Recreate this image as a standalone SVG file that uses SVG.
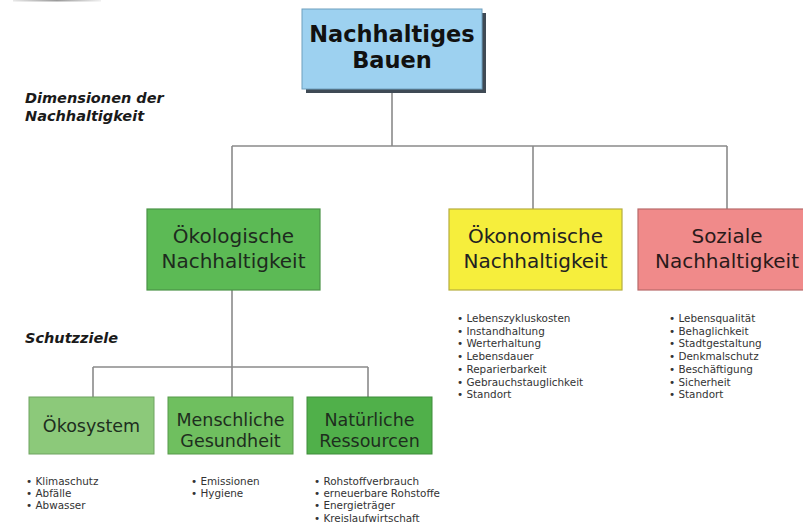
<svg xmlns="http://www.w3.org/2000/svg" width="803" height="526" viewBox="0 0 803 526">
<defs>
<linearGradient id="topline" x1="0" x2="1" y1="0" y2="0">
<stop offset="0" stop-color="#e8e8e8"/><stop offset="0.5" stop-color="#9a9a9a"/><stop offset="1" stop-color="#f0f0f0"/>
</linearGradient>
</defs>
<style>
.conn{stroke:#8a8a8a;stroke-width:1.6;fill:none}
.hdr{font-family:"DejaVu Sans",Verdana,sans-serif;font-weight:bold;font-style:italic;font-size:14.5px;fill:#1a1a1a}
.top{font-family:"DejaVu Sans",Verdana,sans-serif;font-weight:bold;font-size:22.5px;fill:#111;text-anchor:middle}
.dim{font-family:"DejaVu Sans",Verdana,sans-serif;font-size:20px;fill:#1e2a1e;text-anchor:middle}
.goal{font-family:"DejaVu Sans",Verdana,sans-serif;font-size:17.5px;fill:#1e2e1e;text-anchor:middle}
.lst{font-family:"DejaVu Sans",Verdana,sans-serif;font-size:10.4px;fill:#333}
</style>
<rect x="0" y="0" width="803" height="526" fill="#ffffff"/>
<rect x="13" y="0" width="88" height="1.5" fill="url(#topline)"/>

<g id="connectors">
<path class="conn" d="M392 89 V146 M232 146 H727 M232 146 V209 M533 146 V209 M727 146 V209"/>
<path class="conn" d="M232 290 V367 M93 367 H368 M93 367 V397 M232 367 V397 M368 367 V397"/>
</g>

<text class="hdr" x="25" y="102.5">Dimensionen der</text>
<text class="hdr" x="25" y="120.5">Nachhaltigkeit</text>
<text class="hdr" x="25" y="343">Schutzziele</text>

<g id="nachhaltiges-bauen">
<rect x="306" y="13" width="180" height="80" fill="#3f4a55"/>
<rect x="302" y="9" width="180" height="80" fill="#9dd1f0" stroke="#6f9fbe" stroke-width="1"/>
<text class="top" x="392" y="42">Nachhaltiges</text>
<text class="top" x="392" y="68">Bauen</text>
</g>

<g id="oekologische">
<rect x="147" y="209" width="173" height="81" fill="#5cba55" stroke="#4a9346" stroke-width="1.2"/>
<text class="dim" x="233.5" y="243">Ökologische</text>
<text class="dim" x="233.5" y="268">Nachhaltigkeit</text>
</g>

<g id="oekonomische">
<rect x="449" y="209" width="173" height="81" fill="#f6ee3c" stroke="#b6ad3e" stroke-width="1.2"/>
<text class="dim" x="535.5" y="243" style="fill:#222">Ökonomische</text>
<text class="dim" x="535.5" y="268" style="fill:#222">Nachhaltigkeit</text>
</g>

<g id="soziale">
<rect x="638" y="209" width="178" height="81" fill="#f08a8a" stroke="#b86a6a" stroke-width="1.2"/>
<text class="dim" x="727" y="243" style="fill:#2a1a1a">Soziale</text>
<text class="dim" x="727" y="268" style="fill:#2a1a1a">Nachhaltigkeit</text>
</g>

<g id="oekosystem">
<rect x="29" y="397" width="125" height="57" fill="#8cc97a" stroke="#6ea360" stroke-width="1"/>
<text class="goal" x="91.5" y="432">Ökosystem</text>
</g>

<g id="menschliche-gesundheit">
<rect x="168" y="397" width="125" height="57" fill="#6fbf5f" stroke="#57994b" stroke-width="1"/>
<text class="goal" x="230.5" y="426">Menschliche</text>
<text class="goal" x="230.5" y="447">Gesundheit</text>
</g>

<g id="natuerliche-ressourcen">
<rect x="307" y="397" width="125" height="57" fill="#50b04a" stroke="#3f8c3a" stroke-width="1"/>
<text class="goal" x="369.5" y="426">Natürliche</text>
<text class="goal" x="369.5" y="447">Ressourcen</text>
</g>

<g id="list-oekonomisch" class="lst">
<text x="457" y="322">• Lebenszykluskosten</text>
<text x="457" y="334.7">• Instandhaltung</text>
<text x="457" y="347.4">• Werterhaltung</text>
<text x="457" y="360.1">• Lebensdauer</text>
<text x="457" y="372.8">• Reparierbarkeit</text>
<text x="457" y="385.5">• Gebrauchstauglichkeit</text>
<text x="457" y="398.2">• Standort</text>
</g>

<g id="list-sozial" class="lst">
<text x="669" y="322">• Lebensqualität</text>
<text x="669" y="334.7">• Behaglichkeit</text>
<text x="669" y="347.4">• Stadtgestaltung</text>
<text x="669" y="360.1">• Denkmalschutz</text>
<text x="669" y="372.8">• Beschäftigung</text>
<text x="669" y="385.5">• Sicherheit</text>
<text x="669" y="398.2">• Standort</text>
</g>

<g id="list-oekosystem" class="lst">
<text x="26" y="485">• Klimaschutz</text>
<text x="26" y="497">• Abfälle</text>
<text x="26" y="509.3">• Abwasser</text>
</g>

<g id="list-gesundheit" class="lst">
<text x="191" y="485">• Emissionen</text>
<text x="191" y="497">• Hygiene</text>
</g>

<g id="list-ressourcen" class="lst">
<text x="314" y="485">• Rohstoffverbrauch</text>
<text x="314" y="497">• erneuerbare Rohstoffe</text>
<text x="314" y="509.3">• Energieträger</text>
<text x="314" y="521.6">• Kreislaufwirtschaft</text>
</g>
</svg>
